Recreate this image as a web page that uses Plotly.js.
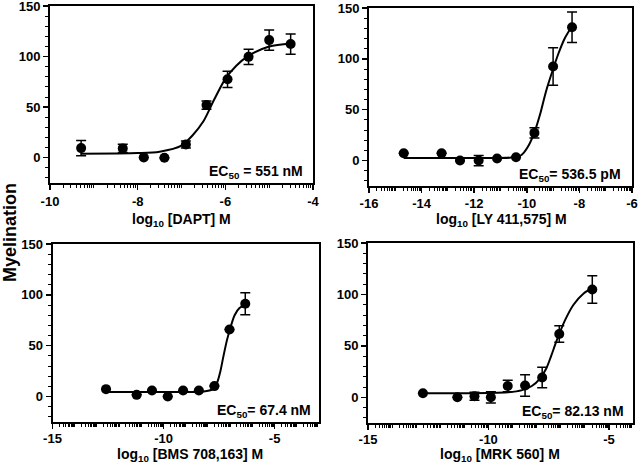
<!DOCTYPE html>
<html>
<head>
<meta charset="utf-8">
<script src="https://cdn.plot.ly/plotly-3.0.1.min.js"></script>
<style>
  html, body { margin: 0; padding: 0; background: #fff; }
  #chart { width: 638px; height: 466px; }
</style>
</head>
<body>
<div id="chart"></div>
<script>
// DAPT
const daptX = [-9.29, -8.34, -7.86, -7.39, -6.90, -6.43, -5.95, -5.47, -5.00, -4.51];
const daptY = [9.5, 9.2, 0.3, 0, 13, 52, 77.5, 99.7, 116.3, 112.4];
const daptErr = [7.5, 4, 0, 0, 3.5, 4, 8, 7.5, 10, 10];
const daptFitX = [-9.3, -8.5, -8.0, -7.5, -7.0, -6.75, -6.5, -6.26, -6.0, -5.75, -5.5, -5.0, -4.5];
const daptFitY = [4, 4.2, 4.6, 6, 12, 22, 36, 57, 78, 91, 100, 110, 113];
const daptTicks = [-10, -8, -6, -4];
const daptTickText = ['-10', '-8', '-6', '-4'];

// LY 411,575
const lyX = [-14.68, -13.24, -12.54, -11.83, -11.13, -10.41, -9.71, -9.0, -8.28];
const lyY = [7.2, 7.2, 0, 0, 2, 3.3, 27.2, 92.5, 131];
const lyErr = [0, 0, 0, 5, 0, 0, 5, 18.5, 15];
const lyFitX = [-14.68, -12, -10.6, -10.2, -9.97, -9.72, -9.5, -9.27, -9.0, -8.8, -8.56, -8.28];
const lyFitY = [2.5, 2.5, 3, 5.5, 13, 27, 45, 68, 90, 105, 120, 132];
const lyTicks = [-16, -14, -12, -10, -8, -6];
const lyTickText = ['-16', '-14', '-12', '-10', '-8', '-6'];

// BMS 708,163
const bmsX = [-12.59, -11.21, -10.52, -9.81, -9.12, -8.41, -7.71, -7.03, -6.32];
const bmsY = [7.3, 1.7, 6, 0, 6, 6, 10.3, 66, 91.3];
const bmsErr = [0, 0, 0, 0, 0, 0, 0, 0, 10.8];
const bmsFitX = [-12.59, -9.5, -8.2, -7.8, -7.6, -7.45, -7.3, -7.15, -7.0, -6.8, -6.58, -6.32];
const bmsFitY = [4.6, 4.6, 5, 7, 13, 24, 40, 55, 67, 80, 87, 90];
const bmsTicks = [-15, -10, -5];
const bmsTickText = ['-15', '-10', '-5'];

// MRK 560
const mrkX = [-12.72, -11.29, -10.58, -9.9, -9.2, -8.48, -7.77, -7.06, -5.69];
const mrkY = [4, 0, 1, 0, 11, 11.5, 19.3, 61.6, 104.8];
const mrkErr = [0, 0, 4, 5.5, 5.5, 10.5, 10, 8, 13.4];
const mrkFitX = [-12.72, -10, -9.2, -8.6, -8.2, -7.87, -7.6, -7.4, -7.17, -6.82, -6.47, -6.05, -5.69];
const mrkFitY = [4, 4.2, 4.8, 7, 11, 18, 28, 40, 55, 75, 90, 101, 106];
const mrkTicks = [-15, -10, -5];
const mrkTickText = ['-15', '-10', '-5'];

const drugNames = ['DAPT', 'LY 411,575', 'BMS 708,163', 'MRK 560'];
const ecLabels = ['EC<sub>50</sub> = 551 nM', 'EC<sub>50</sub>= 536.5 pM', 'EC<sub>50</sub>= 67.4 nM', 'EC<sub>50</sub>= 82.13 nM'];
const yTicks = [0, 50, 100, 150];
const yTickText = ['0', '50', '100', '150'];

const FONT = 'Liberation Sans, Arial, sans-serif';
const bold = arr => arr.map(s => '<b>' + s + '</b>');

const panels = [
    { x: daptX, y: daptY, err: daptErr, fx: daptFitX, fy: daptFitY, range: [-10, -4], tv: daptTicks, tt: daptTickText },
    { x: lyX, y: lyY, err: lyErr, fx: lyFitX, fy: lyFitY, range: [-16, -6], tv: lyTicks, tt: lyTickText },
    { x: bmsX, y: bmsY, err: bmsErr, fx: bmsFitX, fy: bmsFitY, range: [-15, -3], tv: bmsTicks, tt: bmsTickText },
    { x: mrkX, y: mrkY, err: mrkErr, fx: mrkFitX, fy: mrkFitY, range: [-15, -4], tv: mrkTicks, tt: mrkTickText }
];

// pixel boxes of each frame, converted to paper fractions
const W = 638, H = 466;
const boxes = [
    { l: 50, r: 313, t: 6, b: 183 },
    { l: 369, r: 632, t: 8, b: 186 },
    { l: 52.5, r: 319, t: 244, b: 422 },
    { l: 368, r: 633, t: 243, b: 423 }
];
// x title placement: [x px, y px, anchor]
const titlePos = [[181, 220, 'middle'], [501, 220, 'middle'], [190, 466, 'bottom'], [500, 466, 'bottom']];
const ecPos = [0.97, 0.966, 0.977, 0.974];
const labelStandoff = [0, -1, -2, -2];

// log-style minor ticks between integer decades
function logMinor(range, majors) {
    const vals = [];
    for (let n = Math.floor(range[0]); n < range[1]; n++) {
        for (let k = 1; k <= 9; k++) {
            const v = n + Math.log10(k);
            if (k === 1 && majors.includes(n)) continue;
            if (v > range[0] && v < range[1]) vals.push(v);
        }
    }
    return vals;
}

const traces = [];
const layout = {
    width: W, height: H,
    margin: { l: 0, r: 0, t: 0, b: 0 },
    paper_bgcolor: 'white', plot_bgcolor: 'white',
    showlegend: false,
    font: { family: FONT, color: 'black' },
    annotations: []
};

panels.forEach((p, i) => {
    const n = i === 0 ? '' : String(i + 1);
    const xa = 'x' + n, ya = 'y' + n;
    const box = boxes[i];

    traces.push({
        x: p.fx, y: p.fy, xaxis: xa, yaxis: ya,
        mode: 'lines', line: { color: 'black', width: 2, shape: 'spline', smoothing: 0.8 },
        hoverinfo: 'skip'
    });
    traces.push({
        x: p.x, y: p.y, xaxis: xa, yaxis: ya,
        mode: 'markers', marker: { color: 'black', size: 10 },
        error_y: { type: 'data', array: p.err, color: 'black', thickness: 1.5, width: 5 }
    });

    const common = {
        showline: true, linecolor: 'black', linewidth: 2, mirror: true,
        ticks: 'outside', ticklen: 5, tickwidth: 1.5, tickcolor: 'black',
        showgrid: false, zeroline: false, fixedrange: true,
        ticklabeloverflow: 'allow',
        tickfont: { family: FONT, size: 13, color: 'black' }
    };

    layout['xaxis' + n] = Object.assign({}, common, {
        anchor: ya,
        domain: [box.l / W, box.r / W],
        range: p.range, tickmode: 'array', tickvals: p.tv, ticktext: bold(p.tt),
        ticklabelstandoff: labelStandoff[i],
        minor: { tickmode: 'array', tickvals: logMinor(p.range, p.tv), ticks: 'outside', ticklen: 3, tickwidth: 1, tickcolor: 'black' }
    });
    layout['yaxis' + n] = Object.assign({}, common, {
        anchor: xa,
        domain: [1 - box.b / H, 1 - box.t / H],
        range: [-25, 150], tickmode: 'array', tickvals: yTicks, ticktext: bold(yTickText),
        minor: { tick0: 0, dtick: 10, ticks: 'outside', ticklen: 3, tickwidth: 1, tickcolor: 'black' }
    });

    layout.annotations.push({
        xref: xa + ' domain', yref: ya, x: ecPos[i], y: -14,
        xanchor: 'right', yanchor: 'middle', showarrow: false,
        text: '<b>' + ecLabels[i] + '</b>', font: { family: FONT, size: 14, color: 'black' }
    });
    layout.annotations.push({
        xref: 'paper', yref: 'paper',
        x: titlePos[i][0] / W, y: 1 - titlePos[i][1] / H,
        xanchor: 'center', yanchor: titlePos[i][2], showarrow: false,
        text: '<b>log<sub>10</sub> [' + drugNames[i] + '] M</b>',
        font: { family: FONT, size: 14, color: 'black' }
    });
});

layout.annotations.push({
    xref: 'paper', yref: 'paper', x: 10 / W, y: 1 - 233 / H,
    xanchor: 'center', yanchor: 'middle', showarrow: false, textangle: -90,
    text: '<b>Myelination</b>', font: { family: FONT, size: 18, color: 'black' }
});

Plotly.newPlot('chart', traces, layout, { displayModeBar: false, staticPlot: true });
</script>
</body>
</html>
